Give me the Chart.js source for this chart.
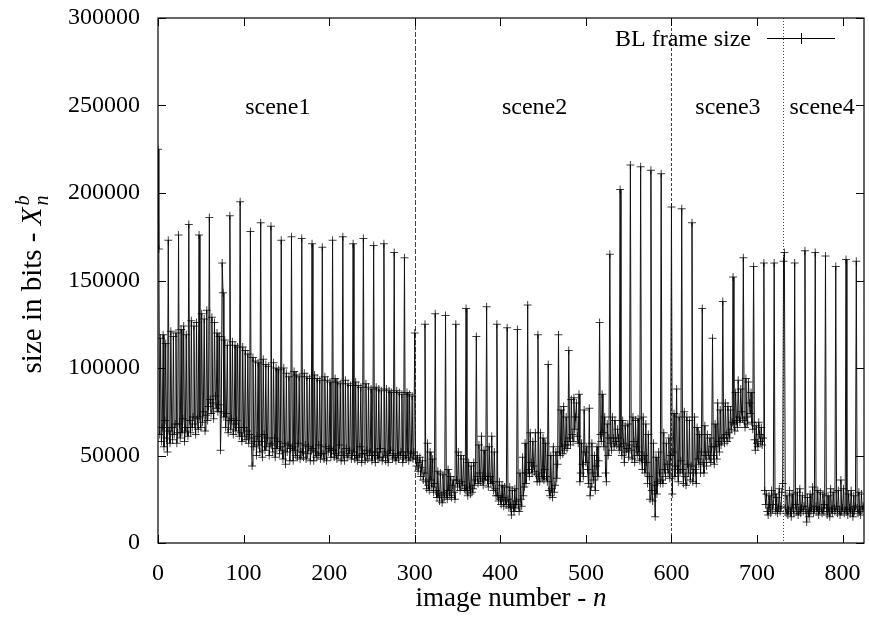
<!DOCTYPE html>
<html>
<head>
<meta charset="utf-8">
<script src="https://cdn.jsdelivr.net/npm/chart.js@4.4.1/dist/chart.umd.min.js"></script>
<style>
  html, body { margin: 0; padding: 0; background: #fff; }
  #wrap { width: 869px; height: 627px; }
</style>
</head>
<body>
<div id="wrap"><canvas id="frame-size-chart" width="869" height="627"></canvas></div>
<script>
// Base layer frame sizes in kbit, one row per GOP (I B B P B B P B B P B B)
const scene1Kbit = [
    225, 168, 62, 117, 58, 66, 119, 55, 70, 114, 60, 52,
    173, 64, 57, 121, 66, 59, 118, 62, 68, 120, 57, 63,
    176, 68, 60, 122, 63, 71, 124, 58, 66, 119, 64, 61,
    182, 70, 63, 127, 66, 72, 124, 68, 62, 126, 71, 65,
    176, 72, 66, 131, 69, 75, 128, 64, 73, 133, 70, 78,
    186, 82, 74, 129, 80, 71, 126, 84, 77, 120, 75, 79,
    118, 53, 75, 160, 143, 72, 116, 66, 74, 113, 63, 70,
    187, 65, 71, 115, 62, 68, 113, 64, 70, 112, 66, 61,
    195, 63, 58, 112, 66, 61, 110, 59, 64, 108, 57, 62,
    178, 60, 44, 106, 55, 58, 104, 50, 61, 103, 56, 52,
    183, 58, 49, 105, 62, 53, 102, 55, 60, 101, 50, 57,
    181, 56, 52, 103, 60, 49, 100, 54, 58, 99, 51, 55,
    173, 53, 48, 100, 57, 45, 97, 52, 56, 95, 47, 54,
    175, 55, 47, 98, 53, 50, 96, 49, 57, 95, 48, 52,
    174, 52, 49, 97, 56, 48, 95, 51, 55, 94, 47, 53,
    171, 54, 47, 96, 52, 49, 94, 50, 56, 93, 48, 51,
    169, 51, 48, 95, 55, 47, 93, 52, 54, 92, 49, 53,
    173, 53, 49, 94, 51, 48, 92, 50, 56, 91, 47, 52,
    175, 50, 47, 93, 54, 49, 91, 51, 53, 90, 48, 50,
    171, 52, 48, 92, 50, 47, 90, 49, 55, 89, 46, 51,
    174, 51, 47, 91, 53, 48, 89, 50, 52, 88, 47, 50,
    170, 50, 46, 89, 52, 48, 88, 49, 54, 87, 47, 49,
    171, 52, 47, 88, 50, 46, 87, 51, 53, 86, 48, 50,
    166, 49, 47, 87, 51, 48, 86, 50, 52, 85, 46, 49,
    163, 50, 48, 86, 52, 47, 85, 49, 51, 84, 48, 52
];

const scene2Kbit = [
    120, 48, 44, 50, 41, 46, 49, 38, 43, 47, 36, 40,
    125, 35, 31, 57, 33, 30, 52, 36, 32, 48, 29, 34,
    131, 30, 26, 41, 28, 24, 40, 27, 23, 39, 29, 26,
    130, 28, 25, 42, 30, 27, 38, 26, 33, 36, 29, 25,
    125, 36, 32, 52, 34, 30, 50, 35, 33, 48, 31, 30,
    134, 30, 27, 46, 32, 28, 44, 29, 31, 46, 33, 36,
    118, 38, 34, 56, 40, 35, 61, 37, 33, 53, 36, 38,
    135, 36, 32, 55, 38, 34, 61, 35, 30, 52, 31, 27,
    125, 27, 24, 35, 25, 22, 33, 26, 21, 32, 24, 22,
    123, 25, 20, 32, 21, 16, 30, 22, 18, 31, 20, 24,
    122, 22, 18, 40, 25, 21, 49, 27, 32, 57, 34, 40,
    136, 42, 38, 63, 46, 40, 58, 44, 41, 63, 39, 35,
    119, 38, 35, 63, 40, 37, 60, 36, 42, 57, 38, 35,
    102, 30, 27, 50, 31, 26, 55, 29, 33, 52, 37, 45,
    119, 52, 50, 76, 55, 51, 78, 53, 56, 72, 54, 58,
    110, 60, 56, 82, 62, 58, 83, 65, 72, 80, 61, 57,
    85, 35, 40, 57, 45, 38, 76, 52, 46, 55, 42, 34,
    77, 27, 32, 57, 40, 36, 50, 30, 44, 55, 38, 47,
    126, 62, 58, 85, 63, 55, 72, 40, 35, 68, 50, 60,
    165, 57, 53, 72, 60, 55, 70, 58, 56, 65, 60, 53,
    202, 55, 50, 70, 57, 46, 67, 52, 54, 68, 49, 56,
    216, 53, 48, 72, 58, 46, 70, 55, 50, 71, 52, 47,
    215, 48, 42, 72, 50, 40, 68, 46, 34, 62, 38, 25,
    213, 30, 24, 57, 33, 15, 49, 28, 35, 52, 40, 34,
    211, 36, 34, 63, 42, 38, 57, 45, 40, 60, 37, 50
];

const scene3Kbit = [
    192, 28, 52, 74, 38, 44, 88, 42, 35, 72, 40, 47,
    191, 42, 34, 75, 38, 33, 72, 45, 40, 70, 36, 44,
    183, 35, 40, 72, 42, 34, 66, 48, 45, 62, 40, 52,
    134, 46, 40, 67, 50, 44, 62, 52, 48, 60, 46, 55,
    117, 50, 45, 68, 55, 48, 80, 58, 52, 76, 56, 60,
    138, 60, 57, 80, 62, 58, 78, 63, 60, 76, 65, 69,
    152, 68, 64, 86, 70, 66, 93, 72, 69, 88, 75, 71,
    163, 70, 66, 94, 72, 68, 92, 80, 74, 86, 69, 65,
    158, 59, 53, 67, 57, 55, 69, 62, 58, 66, 56, 60,
    160, 30, 22, 28, 18, 16, 27, 20, 17, 30, 19, 22,
    160, 28, 18, 26, 17, 20, 31, 18, 21, 29
];

const scene4Kbit = [
    34, 161,
    166, 20, 17, 27, 16, 19, 30, 18, 15, 28, 20, 17,
    160, 22, 18, 29, 16, 19, 31, 17, 20, 27, 18, 21,
    167, 19, 12, 26, 17, 15, 28, 18, 20, 32, 17, 19,
    166, 21, 18, 30, 16, 19, 29, 20, 17, 28, 18, 22,
    164, 20, 16, 27, 18, 15, 31, 19, 17, 29, 20, 18,
    158, 21, 17, 30, 19, 16, 36, 18, 20, 31, 17, 19,
    162, 18, 16, 28, 20, 17, 30, 19, 15, 27, 18, 21,
    161, 20, 17, 29, 18, 16, 28, 19, 21, 20
];

const sceneNames = ['scene1', 'scene2', 'scene3', 'scene4'];
const sceneLabelFrames = [140, 440, 666, 776];
const sceneCuts = [300, 600, 730];
const xTicks = [0, 100, 200, 300, 400, 500, 600, 700, 800];
const yTicks = [0, 50000, 100000, 150000, 200000, 250000, 300000];

const frameSizeKbit = [...scene1Kbit, ...scene2Kbit, ...scene3Kbit, ...scene4Kbit];
const framePoints = frameSizeKbit.map((kbit, n) => ({ x: n, y: kbit * 1000 }));

const SERIF = '"Liberation Serif", "Times New Roman", serif';

// dividers, frame, mirrored ticks, labels, legend and axis titles
const plotDecor = {
    id: 'plotDecor',
    beforeDatasetsDraw(chart) {
        const { ctx, chartArea: a, scales: { x } } = chart;
        const dashes = [[5, 2], [3, 2], [1, 2]];
        ctx.save();
        ctx.strokeStyle = '#444';
        ctx.lineWidth = 1;
        sceneCuts.forEach((cut, i) => {
            const px = Math.round(x.getPixelForValue(cut)) + 0.5;
            ctx.setLineDash(dashes[i]);
            ctx.beginPath();
            ctx.moveTo(px, a.top);
            ctx.lineTo(px, a.bottom);
            ctx.stroke();
        });
        ctx.restore();
    },
    afterDraw(chart) {
        const { ctx, chartArea: a, scales: { x, y } } = chart;
        ctx.save();

        // frame
        ctx.strokeStyle = '#000';
        ctx.lineWidth = 1.2;
        ctx.strokeRect(a.left, a.top, a.right - a.left, a.bottom - a.top);

        // ticks on all four sides, pointing inward
        const tl = 8;
        ctx.lineWidth = 1;
        ctx.beginPath();
        xTicks.forEach(v => {
            const px = Math.round(x.getPixelForValue(v)) + 0.5;
            ctx.moveTo(px, a.bottom); ctx.lineTo(px, a.bottom - tl);
            ctx.moveTo(px, a.top); ctx.lineTo(px, a.top + tl);
        });
        yTicks.forEach(v => {
            const py = Math.round(y.getPixelForValue(v)) + 0.5;
            ctx.moveTo(a.left, py); ctx.lineTo(a.left + tl, py);
            ctx.moveTo(a.right, py); ctx.lineTo(a.right - tl, py);
        });
        ctx.stroke();

        // tick labels
        ctx.fillStyle = '#000';
        ctx.font = '24px ' + SERIF;
        ctx.textAlign = 'center';
        ctx.textBaseline = 'alphabetic';
        xTicks.forEach(v => ctx.fillText(String(v), x.getPixelForValue(v), a.bottom + 37));
        ctx.textAlign = 'right';
        ctx.textBaseline = 'middle';
        yTicks.forEach(v => ctx.fillText(String(v), a.left - 18, y.getPixelForValue(v)));

        // scene labels
        ctx.textAlign = 'center';
        ctx.textBaseline = 'alphabetic';
        sceneNames.forEach((name, i) => {
            ctx.fillText(name, x.getPixelForValue(sceneLabelFrames[i]), y.getPixelForValue(245000));
        });

        // legend
        ctx.textAlign = 'right';
        ctx.fillText('BL frame size', 751, 46);
        ctx.beginPath();
        ctx.moveTo(767, 38.5); ctx.lineTo(835, 38.5);
        ctx.moveTo(796, 38.5); ctx.lineTo(806, 38.5);
        ctx.moveTo(801.5, 33); ctx.lineTo(801.5, 44);
        ctx.stroke();

        // x title
        const big = '27px ' + SERIF;
        const bigIt = 'italic 27px ' + SERIF;
        ctx.textAlign = 'left';
        ctx.font = big;
        const xt = 'image number - ';
        const w1 = ctx.measureText(xt).width;
        ctx.font = bigIt;
        const w2 = ctx.measureText('n').width;
        const sx = (a.left + a.right) / 2 - (w1 + w2) / 2;
        ctx.font = big;
        ctx.fillText(xt, sx, 606);
        ctx.font = bigIt;
        ctx.fillText('n', sx + w1, 606);

        // y title, rotated
        const yFont = '29px ' + SERIF;
        const yFontIt = 'italic 29px ' + SERIF;
        const subFont = 'italic 20px ' + SERIF;
        ctx.translate(41, (a.top + a.bottom) / 2 + 4);
        ctx.rotate(-Math.PI / 2);
        const yt = 'size in bits - ';
        ctx.font = yFont;
        const wy = ctx.measureText(yt).width;
        ctx.font = yFontIt;
        const wX = ctx.measureText('X').width;
        ctx.font = subFont;
        const wS = Math.max(ctx.measureText('b').width, ctx.measureText('n').width);
        let tx = -(wy + wX + 2 + wS) / 2;
        ctx.font = yFont;
        ctx.fillText(yt, tx, 0);
        tx += wy;
        ctx.font = yFontIt;
        ctx.fillText('X', tx, 0);
        tx += wX + 2;
        ctx.font = subFont;
        ctx.fillText('b', tx, -12);
        ctx.fillText('n', tx, 7);

        ctx.restore();
    }
};

new Chart(document.getElementById('frame-size-chart'), {
    type: 'line',
    data: {
        datasets: [{
            label: 'BL frame size',
            data: framePoints,
            borderColor: '#111',
            borderWidth: 1,
            tension: 0,
            pointStyle: 'cross',
            pointRadius: 4,
            pointBorderWidth: 1,
            pointBorderColor: 'rgba(0, 0, 0, 0.75)',
            fill: false
        }]
    },
    options: {
        responsive: false,
        animation: false,
        devicePixelRatio: 1,
        parsing: false,
        layout: { padding: { top: 18, right: 4, left: 0, bottom: 0 } },
        plugins: {
            legend: { display: false },
            tooltip: { enabled: false }
        },
        scales: {
            x: {
                type: 'linear',
                min: 0,
                max: 825,
                afterBuildTicks: scale => { scale.ticks = xTicks.map(v => ({ value: v })); },
                afterFit: scale => { scale.height = 84; },
                grid: { display: false, drawTicks: false },
                border: { display: false },
                ticks: { display: false }
            },
            y: {
                min: 0,
                max: 300000,
                afterBuildTicks: scale => { scale.ticks = yTicks.map(v => ({ value: v })); },
                afterFit: scale => { scale.width = 158; },
                grid: { display: false, drawTicks: false },
                border: { display: false },
                ticks: { display: false }
            }
        }
    },
    plugins: [plotDecor]
});
</script>
</body>
</html>
